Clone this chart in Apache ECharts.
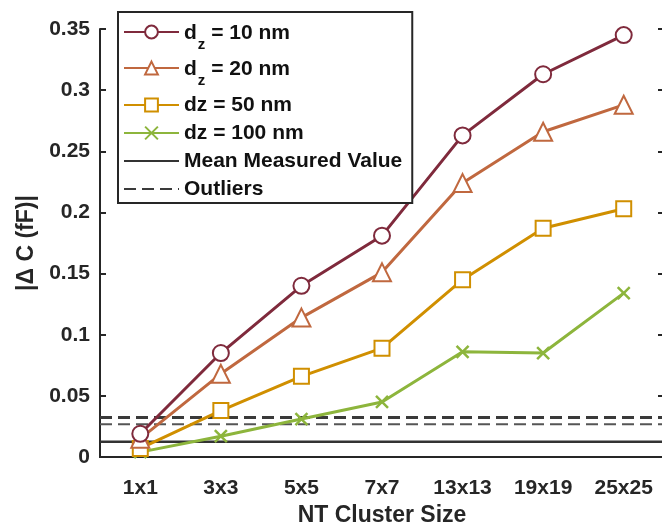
<!DOCTYPE html>
<html>
<head>
<meta charset="utf-8">
<script src="https://cdn.jsdelivr.net/npm/echarts@6/dist/echarts.min.js"></script>
<style>
html, body { margin: 0; padding: 0; background: #fff; }
#chart { width: 662px; height: 528px; }
</style>
</head>
<body>
<div id="chart"></div>
<script>
// values
const clusterSizes = ['1x1', '3x3', '5x5', '7x7', '13x13', '19x19', '25x25'];
const dz10 = [0.019, 0.085, 0.140, 0.181, 0.263, 0.313, 0.345];
const dz20 = [0.015, 0.068, 0.114, 0.151, 0.224, 0.266, 0.288];
const dz50 = [0.007, 0.038, 0.066, 0.089, 0.145, 0.187, 0.203];
const dz100 = [0.004, 0.017, 0.031, 0.045, 0.086, 0.085, 0.134];
const meanMeasured = 0.0125;
const outliers = [0.0322, 0.0267];

const font = "'Liberation Sans', Arial, sans-serif";
const ink = '#262626';

let myChart = echarts.init(document.getElementById('chart'));

function curve(name, data, color, symbol, size) {
    return {
        name: name,
        type: 'line',
        data: data,
        xAxisIndex: 0,
        yAxisIndex: 0,
        symbol: symbol,
        symbolSize: size,
        lineStyle: { color: color, width: 3 },
        itemStyle: { color: color, borderColor: color, borderWidth: 2.5 },
        emphasis: { disabled: true },
    };
}

// horizontal reference line across the full width (hidden 0..1 x axis)
function refLine(name, value, color, width, type) {
    return {
        name: name,
        type: 'line',
        xAxisIndex: 2,
        yAxisIndex: 0,
        data: [[0, value], [1, value]],
        symbol: 'none',
        silent: true,
        lineStyle: { color: color, width: width, type: type },
        itemStyle: { color: color },
        emphasis: { disabled: true },
    };
}

const crossPath = 'path://M0,0L10,10M10,0L0,10';

let option = {
    animation: false,
    textStyle: { fontFamily: font },
    grid: {
        left: 100,
        right: -2,
        top: 29,
        bottom: 71,
        outerBoundsMode: 'none',
        containLabel: false,
    },
    legend: {
        orient: 'vertical',
        left: 118,
        top: 12,
        padding: [8, 10, 1, 5],
        itemGap: 2,
        itemWidth: 55,
        itemHeight: 16,
        backgroundColor: '#fff',
        borderColor: ink,
        borderWidth: 2,
        borderRadius: 0,
        selectedMode: false,
        data: [
            'd_z = 10 nm', 'd_z = 20 nm', 'dz = 50 nm', 'dz = 100 nm',
            { name: 'Mean Measured Value', itemStyle: { opacity: 0 } },
            { name: 'Outliers', itemStyle: { opacity: 0 } },
        ],
        formatter: function (name) {
            if (name.indexOf('d_z') === 0) {
                return '{b|d}{s|z}{b|' + name.slice(3) + '}';
            }
            return name;
        },
        textStyle: {
            fontFamily: font,
            fontSize: 21,
            fontWeight: 'bold',
            color: '#111',
            lineHeight: 26,
            rich: {
                b: {
                    fontFamily: font,
                    fontSize: 21,
                    fontWeight: 'bold',
                    color: '#111',
                    lineHeight: 24,
                    padding: [3, 0, 0, 0],
                    verticalAlign: 'top',
                },
                s: {
                    fontFamily: font,
                    fontSize: 15,
                    fontWeight: 'bold',
                    color: '#111',
                    lineHeight: 14,
                    padding: [17, 0, 2, 1],
                    verticalAlign: 'top',
                },
            },
        },
    },
    xAxis: [
        {
            type: 'category',
            data: clusterSizes,
            position: 'bottom',
            name: 'NT Cluster Size',
            nameLocation: 'middle',
            nameGap: 44,
            nameTextStyle: { fontFamily: font, fontSize: 23, fontWeight: 'bold', color: ink },
            axisLine: { lineStyle: { color: ink, width: 2 } },
            axisTick: { inside: true, alignWithLabel: true, length: 6, lineStyle: { color: ink, width: 2 } },
            axisLabel: { margin: 21, fontFamily: font, fontSize: 21, fontWeight: 'bold', color: ink },
            splitLine: { show: false },
        },
        {
            type: 'category',
            data: clusterSizes,
            position: 'top',
            axisLine: { lineStyle: { color: ink, width: 2 } },
            axisTick: { inside: true, alignWithLabel: true, length: 6, lineStyle: { color: ink, width: 2 } },
            axisLabel: { show: false },
            splitLine: { show: false },
        },
        {
            type: 'value',
            min: 0,
            max: 1,
            show: false,
        },
    ],
    yAxis: [
        {
            type: 'value',
            min: 0,
            max: 0.35,
            interval: 0.05,
            position: 'left',
            name: '|\u0394 C (fF)|',
            nameLocation: 'middle',
            nameGap: 62,
            nameTextStyle: { fontFamily: font, fontSize: 23, fontWeight: 'bold', color: ink },
            axisLine: { show: true, lineStyle: { color: ink, width: 2 } },
            axisTick: { show: true, inside: true, length: 6, lineStyle: { color: ink, width: 2 } },
            axisLabel: { margin: 10, fontFamily: font, fontSize: 21, fontWeight: 'bold', color: ink },
            splitLine: { show: false },
        },
        {
            type: 'value',
            min: 0,
            max: 0.35,
            interval: 0.05,
            position: 'right',
            axisLine: { show: true, lineStyle: { color: ink, width: 2 } },
            axisTick: { show: true, inside: true, length: 6, lineStyle: { color: ink, width: 2 } },
            axisLabel: { show: false },
            splitLine: { show: false },
        },
    ],
    series: [
        refLine('Mean Measured Value', meanMeasured, '#333', 2.5, 'solid'),
        refLine('Outliers', outliers[0], '#3a3a3a', 3, [12, 6]),
        refLine('Outliers (low)', outliers[1], '#555', 2, [12, 6]),
        curve('dz = 100 nm', dz100, '#8DB53C', crossPath, 12),
        curve('dz = 50 nm', dz50, '#D08F00', 'emptyRect', 15),
        curve('d_z = 20 nm', dz20, '#C0683F', 'emptyTriangle', 18),
        curve('d_z = 10 nm', dz10, '#7F2A3C', 'emptyCircle', 16),
    ],
};

myChart.setOption(option);
</script>
</body>
</html>
